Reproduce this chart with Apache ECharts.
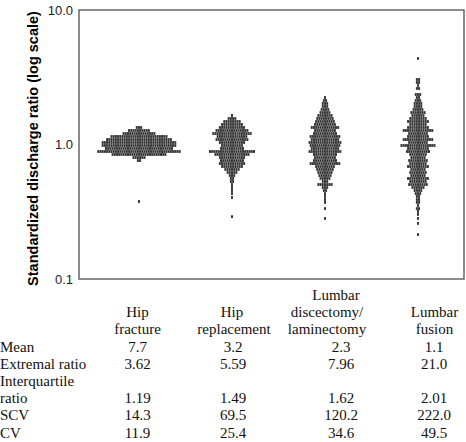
<!DOCTYPE html>
<html><head><meta charset="utf-8">
<script src="https://cdn.jsdelivr.net/npm/echarts@6/dist/echarts.min.js"></script>
<style>html,body{margin:0;padding:0;background:#fff}#c{width:466px;height:442px}</style>
</head><body><div id="c"></div>
<script>
// ---- data ----
const categories = ['Hip fracture', 'Hip replacement', 'Lumbar discectomy/laminectomy', 'Lumbar fusion'];
const yTickLabels = ['0.1', '1.0', '10.0'];

// each group: row values (standardized discharge ratio) and number of hospitals (dots) in that row
const hipFractureValues = [1.338, 1.271, 1.207, 1.147, 1.089, 1.035, 0.983, 0.934, 0.887, 0.843, 0.800, 0.760, 0.377];
const hipFractureCounts = [3, 10, 15, 26, 30, 34, 34, 31, 38, 25, 6, 2, 1];

const hipReplacementValues = [1.643, 1.561, 1.483, 1.409, 1.338, 1.271, 1.207, 1.147, 1.089, 1.035, 0.983, 0.934, 0.887, 0.843, 0.800, 0.760, 0.722, 0.686, 0.652, 0.619, 0.588, 0.559, 0.531, 0.504, 0.479, 0.455, 0.432, 0.404, 0.291];
const hipReplacementCounts = [1, 4, 8, 10, 12, 15, 18, 14, 15, 12, 10, 11, 21, 16, 12, 11, 12, 10, 7, 5, 3, 2, 2, 1, 1, 1, 1, 1, 1];

const lumbarDiscValues = [2.236, 2.124, 2.018, 1.917, 1.821, 1.729, 1.643, 1.561, 1.483, 1.409, 1.338, 1.271, 1.207, 1.147, 1.089, 1.035, 0.983, 0.934, 0.887, 0.843, 0.800, 0.760, 0.722, 0.686, 0.652, 0.619, 0.588, 0.559, 0.531, 0.504, 0.479, 0.455, 0.432, 0.411, 0.390, 0.371, 0.334, 0.282];
const lumbarDiscCounts = [1, 2, 3, 3, 4, 5, 7, 8, 9, 10, 13, 10, 11, 14, 13, 15, 14, 13, 15, 11, 10, 11, 14, 9, 8, 7, 6, 5, 3, 7, 3, 2, 1, 1, 1, 1, 1, 1];

const lumbarFusionValues = [4.36, 3.042, 2.891, 2.747, 2.609, 2.353, 2.236, 2.124, 2.018, 1.917, 1.821, 1.729, 1.643, 1.561, 1.483, 1.409, 1.338, 1.271, 1.207, 1.147, 1.089, 1.035, 0.983, 0.934, 0.887, 0.843, 0.800, 0.760, 0.722, 0.686, 0.652, 0.619, 0.588, 0.559, 0.531, 0.504, 0.479, 0.455, 0.432, 0.411, 0.390, 0.371, 0.352, 0.334, 0.318, 0.302, 0.282, 0.259, 0.214];
const lumbarFusionCounts = [1, 2, 2, 1, 2, 3, 2, 3, 4, 4, 5, 7, 6, 8, 10, 8, 10, 14, 9, 10, 14, 9, 16, 10, 11, 8, 7, 9, 8, 10, 7, 8, 7, 10, 8, 9, 6, 4, 3, 2, 2, 2, 1, 2, 1, 1, 1, 1, 1];

// table below the chart
const headerLines = [['Hip', 'fracture'], ['Hip', 'replacement'], ['Lumbar', 'discectomy/', 'laminectomy'], ['Lumbar', 'fusion']];
const rowLabelLines = [['Mean'], ['Extremal ratio'], ['Interquartile', 'ratio'], ['SCV'], ['CV']];
const meanRow = ['7.7', '3.2', '2.3', '1.1'];
const extremalRatioRow = ['3.62', '5.59', '7.96', '21.0'];
const interquartileRatioRow = ['1.19', '1.49', '1.62', '2.01'];
const scvRow = ['14.3', '69.5', '120.2', '222.0'];
const cvRow = ['11.9', '25.4', '34.6', '49.5'];

// ---- layout ----
const groups = [
  [hipFractureValues, hipFractureCounts],
  [hipReplacementValues, hipReplacementCounts],
  [lumbarDiscValues, lumbarDiscCounts],
  [lumbarFusionValues, lumbarFusionCounts]
];
const grid = {left: 79, top: 10, width: 385, height: 269};
const xMin = 0.355, xMax = 4.495;
const pxPerUnit = grid.width / (xMax - xMin);
const dotPitchPx = 2.2;
const pitch = dotPitchPx / pxPerUnit;

const points = [];
groups.forEach(([vals, counts], gi) => {
  vals.forEach((v, ri) => {
    const n = counts[ri];
    for (let j = 0; j < n; j++) points.push([gi + 1 + (j - (n - 1) / 2) * pitch, v]);
  });
});

// table graphic texts
const serif = '15px "Liberation Serif", "Times New Roman", serif';
const valueColX = [137.5, 233, 341, 434];
const headerColX = [[137.5, 137.5], [232, 234], [336, 327, 327], [434.5, 434.5]];
const lineH = 17.2, baseY = 300;
const lineCenter = k => baseY + lineH * k - 5;
const graphics = [];
headerLines.forEach((lines, ci) => {
  const start = 3 - lines.length;
  lines.forEach((t, li) => graphics.push({type: 'text', x: headerColX[ci][li], y: lineCenter(start + li),
    style: {text: t, font: serif, fill: '#111', align: 'center', verticalAlign: 'middle'}}));
});
const valueRows = [meanRow, extremalRatioRow, interquartileRatioRow, scvRow, cvRow];
let line = 3;
rowLabelLines.forEach((lines, ri) => {
  lines.forEach((t, li) => graphics.push({type: 'text', x: 0, y: lineCenter(line + li),
    style: {text: t, font: serif, fill: '#111', align: 'left', verticalAlign: 'middle'}}));
  const valLine = line + lines.length - 1;
  valueRows[ri].forEach((t, ci) => graphics.push({type: 'text', x: valueColX[ci], y: lineCenter(valLine),
    style: {text: t, font: serif, fill: '#111', align: 'center', verticalAlign: 'middle'}}));
  line += lines.length;
});
graphics.push({type: 'text', x: 33, y: grid.top + grid.height / 2 + 4, rotation: Math.PI / 2,
  style: {text: 'Standardized discharge ratio (log scale)', font: 'bold 14.5px "Liberation Sans", Arial, sans-serif',
    fill: '#000', align: 'center', verticalAlign: 'middle'}});

const chart = echarts.init(document.getElementById('c'), null, {renderer: 'svg'});
chart.setOption({
  animation: false,
  grid: {left: grid.left, top: grid.top, width: grid.width, height: grid.height, show: true,
    borderColor: '#666', borderWidth: 1.5, backgroundColor: 'transparent'},
  xAxis: {type: 'value', min: xMin, max: xMax, show: false},
  yAxis: {type: 'log', logBase: 10, min: 0.1, max: 10,
    axisLine: {show: false}, axisTick: {show: false}, splitLine: {show: false},
    axisLabel: {margin: 6, color: '#222', fontSize: 13, fontFamily: '"Liberation Sans", Arial, sans-serif',
      formatter: v => { const i = Math.round(Math.log10(v)) + 1; return yTickLabels[i] || ''; }}},
  series: [{type: 'scatter', data: points, symbol: 'rect', symbolSize: [2, 2.8], itemStyle: {color: '#000'}, silent: true}],
  graphic: graphics
});
</script>
</body></html>
